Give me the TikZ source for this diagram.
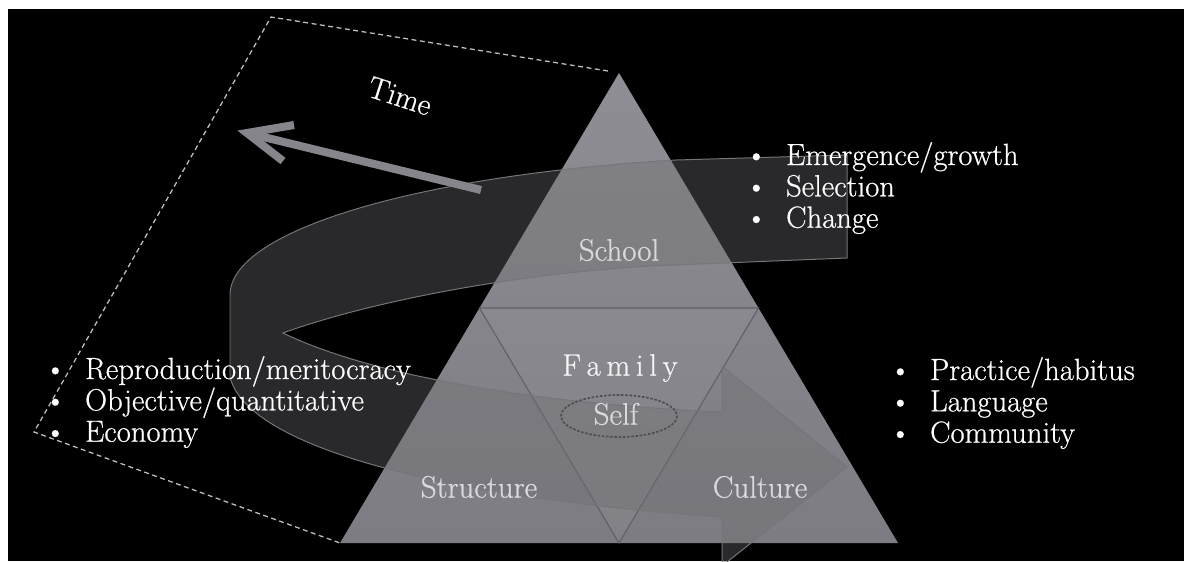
\documentclass[tikz,border=0pt]{standalone}
\usepackage{fontspec}
\usepackage{tikz}
\usetikzlibrary{calc}
\newfontfamily\slidefont{Latin Modern Roman}[FakeBold=0.6]
\definecolor{tritop}{HTML}{8E8E94}
\definecolor{tribot}{HTML}{7C7C82}
\definecolor{ribbongray}{HTML}{6E6E72}
\definecolor{edgegray}{HTML}{75757A}
\definecolor{innergray}{HTML}{606066}
\definecolor{arrowgray}{HTML}{85858B}
\definecolor{framegray}{HTML}{C0C0C0}
\definecolor{labelgray}{HTML}{DADADE}
\tikzstyle{tritext} = [text=labelgray, font=\slidefont\fontsize{22}{26}\selectfont, inner sep=0pt]
\tikzstyle{bulletlist} = [text=white, align=left, anchor=west, inner sep=0pt, font=\slidefont\fontsize{21.8}{22.3}\selectfont]
\tikzstyle{frame} = [draw=framegray, line width=0.9pt, dash pattern=on 3.5pt off 2.5pt]
\tikzstyle{ribbon} = [fill=ribbongray, fill opacity=0.38, draw=edgegray, line width=0.7pt]
\tikzstyle{timearrow} = [draw=arrowgray, line width=5.7pt]
\tikzstyle{innertri} = [draw=innergray, line width=0.8pt, fill=white, fill opacity=0.04]
\tikzstyle{selfring} = [draw=innergray!80!black, line width=1.2pt, dash pattern=on 1.8pt off 1.2pt]
\newcommand{\bitem}[1]{\makebox[29pt][l]{\textbullet}#1}

\begin{document}
\begin{tikzpicture}[x=0.025cm, y=-0.025cm]
	\useasboundingbox (0,0) rectangle (1184,561);
	\fill[black] (8,9) rectangle (1184,561);
	
	% big triangle and the inner one
	\coordinate (apex) at (619,73);
	\coordinate (baseL) at (340,543);
	\coordinate (baseR) at (898,543);
	\shade[top color=tritop, bottom color=tribot] (apex) -- (baseL) -- (baseR) -- cycle;
	\coordinate (midL) at ($(apex)!0.5!(baseL)$);
	\coordinate (midR) at ($(apex)!0.5!(baseR)$);
	\coordinate (midB) at ($(baseL)!0.5!(baseR)$);
	\draw[innertri] (midL) -- (midR) -- (midB) -- cycle;
	
	% ribbon
	\path[ribbon] (847,155) -- (676,160) .. controls (420,175) and (230,230) .. (230,295) -- (230,377)
		.. controls (245,440) and (410,495) .. (722,517) -- (722,566) -- (847,467) -- (722,366) -- (722,412)
		.. controls (560,405) and (380,380) .. (283,333) .. controls (360,305) and (500,275) .. (650,266)
		-- (847,258) -- cycle;
	
	\draw[selfring] (619,416) ellipse [x radius=58, y radius=21];
	
	\node[tritext] (school) at (619,250) {School};
	\node[tritext, text=white!92!gray] (family) at (620,368) {F\kern4pt a\kern4pt m\kern4pt i\kern4pt l\kern4pt y};
	\node[tritext] (self) at (616,414) {Self};
	\node[tritext] (structure) at (479,487) {Structure};
	\node[tritext] (culture) at (760,487) {Culture};
	
	% time arrow
	\node[text=white, font=\slidefont\fontsize{22}{26}\selectfont, rotate=-18] (time) at (400,96) {Time};
	\coordinate (tail) at (481,190);
	\coordinate (tip) at (247,133);
	\coordinate (barbA) at (294,125);
	\coordinate (barbB) at (283,161);
	\draw[timearrow] (tail) -- (tip);
	\draw[timearrow, line join=miter] (barbA) -- (tip) -- (barbB);
	
	\coordinate (frameTR) at (608,71);
	\coordinate (frameTL) at (271,17);
	\coordinate (frameBL) at (34,432);
	\draw[frame] (frameTR) -- (frameTL) -- (frameBL) -- (baseL);
	
	\node[bulletlist] (growth) at (745,188) {\bitem{Emergence/growth}\\\bitem{Selection}\\\bitem{Change}};
	\node[bulletlist] (reproduction) at (44,402) {\bitem{Reproduction/meritocracy}\\\bitem{Objective/quantitative}\\\bitem{Economy}};
	\node[bulletlist] (practice) at (889,403) {\bitem{Practice/habitus}\\\bitem{Language}\\\bitem{Community}};
\end{tikzpicture}
\end{document}
